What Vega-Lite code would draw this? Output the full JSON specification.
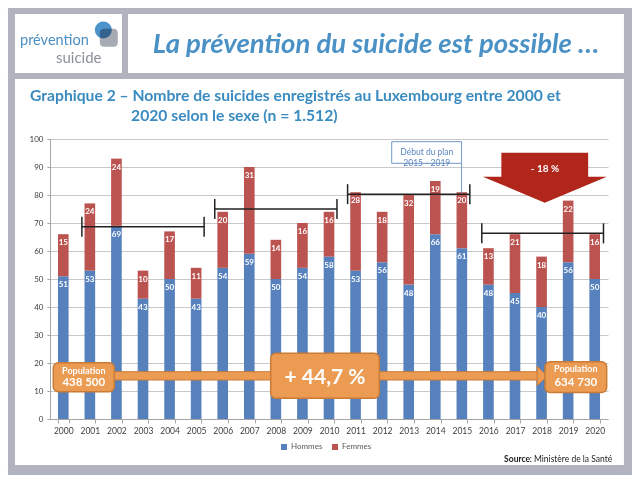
{
  "$schema": "https://vega.github.io/schema/vega-lite/v6.json",
  "width": 558,
  "height": 280,
  "autosize": {"type": "none"},
  "padding": {"left": 50, "top": 139, "right": 32, "bottom": 68},
  "background": "#ffffff",
  "config": {"font": "Lato", "view": {"stroke": null}},
  "datasets": {
    "suicides": [
      {"annee": "2000", "sexe": "Hommes", "n": 51}, {"annee": "2000", "sexe": "Femmes", "n": 15},
      {"annee": "2001", "sexe": "Hommes", "n": 53}, {"annee": "2001", "sexe": "Femmes", "n": 24},
      {"annee": "2002", "sexe": "Hommes", "n": 69}, {"annee": "2002", "sexe": "Femmes", "n": 24},
      {"annee": "2003", "sexe": "Hommes", "n": 43}, {"annee": "2003", "sexe": "Femmes", "n": 10},
      {"annee": "2004", "sexe": "Hommes", "n": 50}, {"annee": "2004", "sexe": "Femmes", "n": 17},
      {"annee": "2005", "sexe": "Hommes", "n": 43}, {"annee": "2005", "sexe": "Femmes", "n": 11},
      {"annee": "2006", "sexe": "Hommes", "n": 54}, {"annee": "2006", "sexe": "Femmes", "n": 20},
      {"annee": "2007", "sexe": "Hommes", "n": 59}, {"annee": "2007", "sexe": "Femmes", "n": 31},
      {"annee": "2008", "sexe": "Hommes", "n": 50}, {"annee": "2008", "sexe": "Femmes", "n": 14},
      {"annee": "2009", "sexe": "Hommes", "n": 54}, {"annee": "2009", "sexe": "Femmes", "n": 16},
      {"annee": "2010", "sexe": "Hommes", "n": 58}, {"annee": "2010", "sexe": "Femmes", "n": 16},
      {"annee": "2011", "sexe": "Hommes", "n": 53}, {"annee": "2011", "sexe": "Femmes", "n": 28},
      {"annee": "2012", "sexe": "Hommes", "n": 56}, {"annee": "2012", "sexe": "Femmes", "n": 18},
      {"annee": "2013", "sexe": "Hommes", "n": 48}, {"annee": "2013", "sexe": "Femmes", "n": 32},
      {"annee": "2014", "sexe": "Hommes", "n": 66}, {"annee": "2014", "sexe": "Femmes", "n": 19},
      {"annee": "2015", "sexe": "Hommes", "n": 61}, {"annee": "2015", "sexe": "Femmes", "n": 20},
      {"annee": "2016", "sexe": "Hommes", "n": 48}, {"annee": "2016", "sexe": "Femmes", "n": 13},
      {"annee": "2017", "sexe": "Hommes", "n": 45}, {"annee": "2017", "sexe": "Femmes", "n": 21},
      {"annee": "2018", "sexe": "Hommes", "n": 40}, {"annee": "2018", "sexe": "Femmes", "n": 18},
      {"annee": "2019", "sexe": "Hommes", "n": 56}, {"annee": "2019", "sexe": "Femmes", "n": 22},
      {"annee": "2020", "sexe": "Hommes", "n": 50}, {"annee": "2020", "sexe": "Femmes", "n": 16}
    ],
    "moyennes": [
      {"periode": "2000-2005", "x": 1.2, "x2": 5.8, "y": 68.7},
      {"periode": "2006-2010", "x": 6.2, "x2": 10.8, "y": 75.0},
      {"periode": "2011-2015", "x": 11.2, "x2": 15.8, "y": 80.3},
      {"periode": "2016-2020", "x": 16.25, "x2": 20.83, "y": 66.3}
    ]
  },
  "layer": [
    {
      "encoding": {
        "x": {"field": "x", "type": "quantitative", "scale": {"domain": [0, 21], "nice": false, "zero": false}, "axis": null},
        "y": {"field": "y", "type": "quantitative", "scale": {"domain": [0, 100], "nice": false},
          "axis": {"title": null, "values": [0, 10, 20, 30, 40, 50, 60, 70, 80, 90, 100], "labelFontSize": 8, "labelFont": "Lato", "labelColor": "#404040", "tickSize": 3, "tickColor": "#a6a6a6", "domainColor": "#a6a6a6", "gridColor": "#c8c8c8", "gridWidth": 1.2, "labelPadding": 4}}
      },
      "layer": [
        {
          "data": {"values": [
            {"x": -1.581, "x2": 21.903, "y": 146.79, "y2": 144.64},
            {"x": -1.581, "x2": -1.317, "y": 146.79, "y2": -20.0},
            {"x": 21.6, "x2": 21.903, "y": 146.79, "y2": -20.0},
            {"x": -1.581, "x2": 21.903, "y": -16.43, "y2": -20.0},
            {"x": -1.581, "x2": 21.903, "y": 123.57, "y2": 121.43},
            {"x": 2.71, "x2": 2.935, "y": 144.64, "y2": 123.57}
          ]},
          "mark": {"type": "rect", "color": "#b1b4be"},
          "encoding": {"x2": {"field": "x2"}, "y2": {"field": "y2"}}
        },
        {
          "data": {"values": [{"x": 12.27, "y": 130.6, "t": "La prévention du suicide est possible …"}]},
          "mark": {"type": "text", "font": "Lato", "fontSize": 27.5, "fontStyle": "italic", "fontWeight": "bold", "color": "#4a91c6", "align": "center", "baseline": "alphabetic"},
          "encoding": {"text": {"field": "t"}}
        },
        {
          "data": {"values": [
            {"x": -0.753, "y": 113.57, "t": "Graphique 2 – Nombre de suicides enregistrés au Luxembourg entre 2000 et"},
            {"x": 3.05, "y": 106.4, "t": "2020 selon le sexe (n = 1.512)"}
          ]},
          "mark": {"type": "text", "font": "Lato", "fontSize": 15.7, "fontWeight": "bold", "color": "#3a8bc0", "align": "left", "baseline": "alphabetic"},
          "encoding": {"text": {"field": "t"}}
        },
        {
          "data": {"values": [{"x": 2.213, "y": 136.18}]},
          "mark": {"type": "point", "filled": true, "opacity": 1, "color": "#a7abb3", "size": 324, "shape": "M-1,-0.5 Q-1,-1 -0.5,-1 L0.5,-1 Q1,-1 1,-0.5 L1,0.5 Q1,1 0.5,1 L-0.5,1 Q-1,1 -1,0.5 Z"}
        },
        {
          "data": {"values": [{"x": 2.006, "y": 138.93}]},
          "mark": {"type": "point", "filled": true, "opacity": 1, "color": "#4d93cb", "size": 289, "shape": "circle", "blend": "multiply"}
        },
        {
          "data": {"values": [{"x": -1.129, "y": 133.6, "t": "prévention"}]},
          "mark": {"type": "text", "font": "Lato", "fontSize": 14.5, "color": "#4a8fc4", "align": "left", "baseline": "alphabetic"},
          "encoding": {"text": {"field": "t"}}
        },
        {
          "data": {"values": [{"x": 1.938, "y": 127.3, "t": "suicide"}]},
          "mark": {"type": "text", "font": "Lato", "fontSize": 15, "color": "#8b9099", "align": "right", "baseline": "alphabetic"},
          "encoding": {"text": {"field": "t"}}
        }
      ]
    },
    {
      "data": {"name": "suicides"},
      "encoding": {
        "x": {"field": "annee", "type": "ordinal", "scale": {"paddingInner": 0.6, "paddingOuter": 0.3},
          "axis": {"title": null, "labelFontSize": 8.5, "labelColor": "#404040", "labelFont": "Lato", "labelAngle": 0, "labelPadding": 3, "tickBand": "extent", "tickSize": 4, "tickColor": "#a6a6a6", "domainColor": "#a6a6a6", "grid": false}},
        "y": {"field": "n", "type": "quantitative", "stack": "zero", "scale": {"domain": [0, 100], "nice": false},
          "axis": {"title": null, "values": [0, 10, 20, 30, 40, 50, 60, 70, 80, 90, 100], "labelFontSize": 8, "labelFont": "Lato", "labelColor": "#404040", "tickSize": 3, "tickColor": "#a6a6a6", "domainColor": "#a6a6a6", "gridColor": "#c8c8c8", "gridWidth": 1.2, "labelPadding": 4}},
        "order": {"field": "sexe", "sort": "descending"}
      },
      "layer": [
        {
          "mark": {"type": "bar"},
          "encoding": {
            "color": {"field": "sexe", "type": "nominal",
              "scale": {"domain": ["Hommes", "Femmes"], "range": ["#5681bd", "#bb5350"]},
              "legend": {"orient": "none", "legendX": 230, "legendY": 304, "direction": "horizontal", "title": null, "symbolType": "square", "symbolSize": 36, "labelFontSize": 8, "labelFont": "Lato", "labelColor": "#595959", "columnPadding": 8, "labelOffset": 3, "symbolStrokeWidth": 0}}
          }
        },
        {
          "mark": {"type": "text", "baseline": "middle", "dy": 9, "color": "#ffffff", "font": "Lato", "fontWeight": "bold", "fontSize": 8},
          "encoding": {"text": {"field": "n", "type": "quantitative"}, "detail": {"field": "sexe"}}
        }
      ]
    },
    {
      "encoding": {
        "x": {"field": "x", "type": "quantitative", "scale": {"domain": [0, 21], "nice": false, "zero": false}, "axis": null},
        "y": {"field": "y", "type": "quantitative", "scale": {"domain": [0, 100], "nice": false},
          "axis": {"title": null, "values": [0, 10, 20, 30, 40, 50, 60, 70, 80, 90, 100], "labelFontSize": 8, "labelFont": "Lato", "labelColor": "#404040", "tickSize": 3, "tickColor": "#a6a6a6", "domainColor": "#a6a6a6", "gridColor": "#c8c8c8", "gridWidth": 1.2, "labelPadding": 4}}
      },
      "layer": [
        {
          "data": {"name": "moyennes"},
          "mark": {"type": "rule", "color": "#222222", "strokeWidth": 1.5},
          "encoding": {"x2": {"field": "x2"}}
        },
        {
          "data": {"name": "moyennes"},
          "mark": {"type": "tick", "orient": "vertical", "size": 20, "thickness": 1.5, "color": "#222222", "opacity": 1}
        },
        {
          "data": {"name": "moyennes"},
          "mark": {"type": "tick", "orient": "vertical", "size": 20, "thickness": 1.5, "color": "#222222", "opacity": 1},
          "encoding": {"x": {"field": "x2", "type": "quantitative"}}
        },
        {
          "data": {"values": [{"x": 12.86, "x2": 15.49, "y": 99.04, "y2": 91.32}]},
          "mark": {"type": "rect", "fill": "#ffffff", "stroke": "#7297c9", "strokeWidth": 1},
          "encoding": {"x2": {"field": "x2"}, "y2": {"field": "y2"}}
        },
        {
          "data": {"values": [{"x": 15.49, "y": 91.32, "y2": 80.6}]},
          "mark": {"type": "rule", "color": "#7297c9", "strokeWidth": 1},
          "encoding": {"y2": {"field": "y2"}}
        },
        {
          "data": {"values": [{"x": 14.18, "y": 95.18, "t": "Début du plan\n2015 - 2019"}]},
          "mark": {"type": "text", "lineBreak": "\n", "lineHeight": 11, "font": "Lato", "fontSize": 8.5, "color": "#5b86c0", "align": "center", "baseline": "middle"},
          "encoding": {"text": {"field": "t"}}
        },
        {
          "data": {"values": [{"x": 18.62, "y": 86.18}]},
          "mark": {"type": "point", "filled": true, "opacity": 1, "color": "#b0261b", "size": 15376, "shape": "M-0.7,-0.403 L0.7,-0.403 L0.7,-0.016 L1,-0.016 L0,0.403 L-1,-0.016 L-0.7,-0.016 Z"}
        },
        {
          "data": {"values": [{"x": 18.63, "y": 89.29, "t": "- 18 %"}]},
          "mark": {"type": "text", "font": "Lato", "fontSize": 10, "fontWeight": "bold", "color": "#ffffff", "align": "center", "baseline": "middle"},
          "encoding": {"text": {"field": "t"}}
        },
        {
          "data": {"values": [{"x": 2.4, "x2": 18.35, "y": 16.9, "y2": 13.93}]},
          "mark": {"type": "rect", "fill": "#ec9b52", "stroke": "#c97b37", "strokeWidth": 1},
          "encoding": {"x2": {"field": "x2"}, "y2": {"field": "y2"}}
        },
        {
          "data": {"values": [{"x": 18.52, "y": 15.36}]},
          "mark": {"type": "point", "filled": true, "opacity": 1, "fill": "#ec9b52", "stroke": "#c97b37", "strokeWidth": 1, "size": 400, "shape": "M-0.5,-1 L0.5,0 L-0.5,1 Z"}
        },
        {
          "data": {"values": [
            {"x": 0.124, "x2": 2.42, "y": 20.1, "y2": 9.75},
            {"x": 8.306, "x2": 12.394, "y": 23.46, "y2": 7.39},
            {"x": 18.63, "x2": 20.95, "y": 20.46, "y2": 9.5}
          ]},
          "mark": {"type": "rect", "fill": "#ec9b52", "stroke": "#c97b37", "strokeWidth": 1.5, "cornerRadius": 5},
          "encoding": {"x2": {"field": "x2"}, "y2": {"field": "y2"}}
        },
        {
          "data": {"values": [
            {"x": 1.272, "y": 17.25, "t": "Population"},
            {"x": 19.79, "y": 17.86, "t": "Population"}
          ]},
          "mark": {"type": "text", "font": "Lato", "fontSize": 9, "fontWeight": "bold", "color": "#ffffff", "align": "center", "baseline": "middle"},
          "encoding": {"text": {"field": "t"}}
        },
        {
          "data": {"values": [
            {"x": 1.272, "y": 12.75, "t": "438 500"},
            {"x": 19.79, "y": 12.75, "t": "634 730"}
          ]},
          "mark": {"type": "text", "font": "Lato", "fontSize": 11.5, "fontWeight": "bold", "color": "#ffffff", "align": "center", "baseline": "middle"},
          "encoding": {"text": {"field": "t"}}
        },
        {
          "data": {"values": [{"x": 10.35, "y": 14.6, "t": "+ 44,7 %"}]},
          "mark": {"type": "text", "font": "Lato", "fontSize": 21, "fontWeight": "bold", "color": "#ffffff", "align": "center", "baseline": "middle"},
          "encoding": {"text": {"field": "t"}}
        },
        {
          "data": {"values": [{"x": 17.09, "y": -14.4, "t": "Source"}]},
          "mark": {"type": "text", "font": "Lato", "fontSize": 8.5, "fontWeight": "bold", "color": "#222222", "align": "left", "baseline": "middle"},
          "encoding": {"text": {"field": "t"}}
        },
        {
          "data": {"values": [{"x": 21.16, "y": -14.4, "t": ": Ministère de la Santé"}]},
          "mark": {"type": "text", "font": "Lato", "fontSize": 8.5, "color": "#222222", "align": "right", "baseline": "middle"},
          "encoding": {"text": {"field": "t"}}
        }
      ]
    }
  ],
  "resolve": {"scale": {"x": "independent"}}
}
